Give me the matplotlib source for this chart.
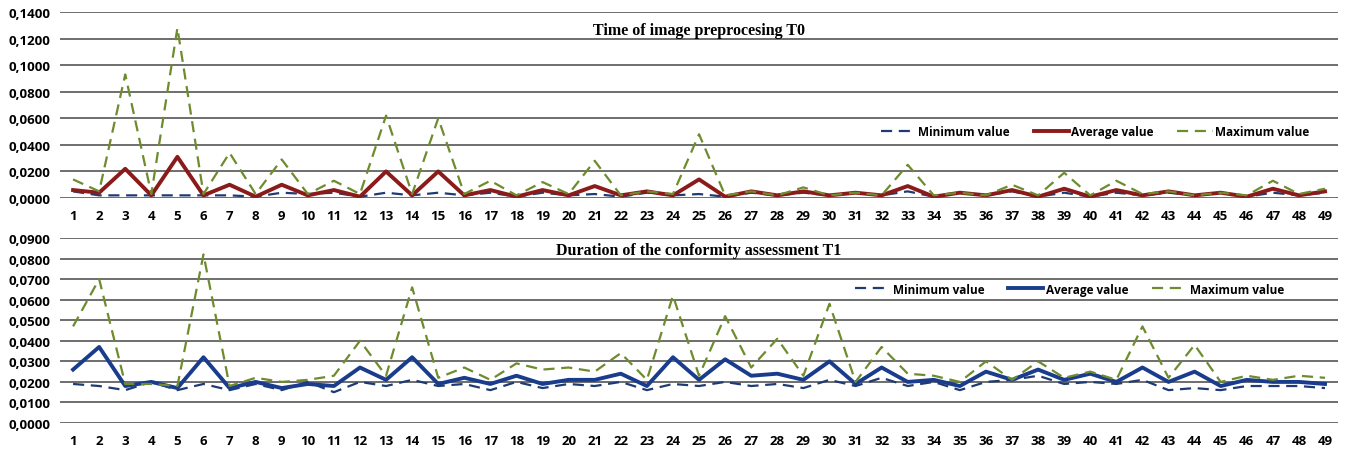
import numpy as np
import matplotlib.pyplot as plt

samples = list(range(1, 50))

# T0 - time of image preprocessing
t0_min = [0.005, 0.002, 0.002, 0.002, 0.002, 0.002, 0.002, 0.001, 0.004, 0.003,
          0.004, 0.001, 0.004, 0.002, 0.004, 0.002, 0.004, 0.001, 0.004, 0.002,
          0.003, 0.001, 0.004, 0.002, 0.003, 0.001, 0.004, 0.002, 0.004, 0.002,
          0.004, 0.002, 0.005, 0.001, 0.004, 0.002, 0.005, 0.001, 0.004, 0.001,
          0.004, 0.002, 0.004, 0.002, 0.004, 0.001, 0.004, 0.002, 0.004]
t0_avg = [0.006, 0.004, 0.022, 0.002, 0.031, 0.002, 0.010, 0.001, 0.010, 0.002,
          0.006, 0.001, 0.020, 0.002, 0.020, 0.002, 0.006, 0.001, 0.006, 0.002,
          0.009, 0.002, 0.005, 0.002, 0.014, 0.001, 0.005, 0.002, 0.005, 0.002,
          0.004, 0.002, 0.009, 0.001, 0.004, 0.002, 0.006, 0.001, 0.007, 0.001,
          0.006, 0.002, 0.005, 0.002, 0.004, 0.001, 0.007, 0.002, 0.005]
t0_max = [0.014, 0.005, 0.093, 0.003, 0.128, 0.003, 0.034, 0.003, 0.029, 0.003,
          0.013, 0.003, 0.062, 0.003, 0.060, 0.003, 0.013, 0.002, 0.012, 0.003,
          0.028, 0.002, 0.005, 0.003, 0.048, 0.002, 0.005, 0.002, 0.008, 0.002,
          0.004, 0.002, 0.025, 0.002, 0.004, 0.002, 0.010, 0.002, 0.019, 0.002,
          0.013, 0.003, 0.005, 0.002, 0.004, 0.002, 0.013, 0.003, 0.007]

# T1 - duration of the conformity assessment
t1_min = [0.019, 0.018, 0.016, 0.020, 0.016, 0.019, 0.016, 0.019, 0.016, 0.020,
          0.015, 0.020, 0.018, 0.021, 0.018, 0.019, 0.016, 0.020, 0.017, 0.019,
          0.018, 0.020, 0.016, 0.019, 0.018, 0.020, 0.018, 0.019, 0.017, 0.021,
          0.018, 0.022, 0.018, 0.020, 0.016, 0.020, 0.021, 0.023, 0.019, 0.020,
          0.019, 0.021, 0.016, 0.017, 0.016, 0.018, 0.018, 0.018, 0.017]
t1_avg = [0.026, 0.037, 0.018, 0.020, 0.017, 0.032, 0.017, 0.020, 0.017, 0.019,
          0.018, 0.027, 0.021, 0.032, 0.019, 0.022, 0.019, 0.023, 0.019, 0.021,
          0.021, 0.024, 0.018, 0.032, 0.021, 0.031, 0.023, 0.024, 0.021, 0.030,
          0.019, 0.027, 0.020, 0.021, 0.018, 0.025, 0.021, 0.026, 0.021, 0.024,
          0.020, 0.027, 0.020, 0.025, 0.018, 0.021, 0.020, 0.020, 0.019]
t1_max = [0.047, 0.070, 0.019, 0.019, 0.018, 0.082, 0.018, 0.022, 0.020, 0.021,
          0.023, 0.040, 0.023, 0.066, 0.022, 0.027, 0.021, 0.029, 0.026, 0.027,
          0.025, 0.034, 0.021, 0.062, 0.023, 0.052, 0.027, 0.041, 0.023, 0.058,
          0.020, 0.037, 0.024, 0.023, 0.020, 0.030, 0.021, 0.030, 0.022, 0.025,
          0.021, 0.047, 0.022, 0.038, 0.020, 0.023, 0.021, 0.023, 0.022]

label_font = ['Open Sans', 'DejaVu Sans']
title_font = ['Liberation Serif', 'DejaVu Serif']


def fmt(v, pos):
    return f'{v:.4f}'.replace('.', ',')


def draw_panel(ax, vmin, vavg, vmax, avg_color, ymax, ystep, title, title_y, leg_anchor):
    ax.plot(samples, vmin, color='#1F3B73', lw=1.6, dashes=(5, 3), label='Minimum value')
    ax.plot(samples, vavg, color=avg_color, lw=2.8, label='Average value')
    ax.plot(samples, vmax, color='#6E8B2E', lw=1.6, dashes=(5, 3), label='Maximum value')
    ax.set_xlim(0.5, 49.5)
    ax.set_ylim(0, ymax)
    ax.set_yticks(np.arange(0, ymax + ystep / 2, ystep))
    ax.yaxis.set_major_formatter(plt.FuncFormatter(fmt))
    ax.set_xticks(samples)
    ax.grid(axis='y', color='#555555', lw=1.2)
    ax.set_axisbelow(True)
    for s in ax.spines.values():
        s.set_visible(False)
    ax.tick_params(length=0, labelsize=9.5, pad=7)
    ax.tick_params(axis='x', pad=8)
    for lab in ax.get_xticklabels() + ax.get_yticklabels():
        lab.set_fontfamily(label_font)
        lab.set_fontweight('bold')
    ax.text(0.5, title_y, title, transform=ax.transAxes, ha='center', va='center',
            fontsize=11.5, fontweight='bold', family=title_font)
    ax.legend(loc='center left', bbox_to_anchor=leg_anchor, ncol=3, frameon=False,
              handlelength=3.0, handletextpad=0.2, columnspacing=2.0, borderpad=0,
              borderaxespad=0,
              prop={'family': label_font, 'weight': 'bold', 'size': 8.5})


fig = plt.figure(figsize=(13.46, 4.52), dpi=100)
ax1 = fig.add_axes([0.0446, 0.5597, 0.9495, 0.4115])
ax2 = fig.add_axes([0.0446, 0.0619, 0.9495, 0.4093])

draw_panel(ax1, t0_min, t0_avg, t0_max, '#8B1A1A', 0.14, 0.02,
           'Time of image preprocesing T0', 0.905, (0.642, 0.355))
draw_panel(ax2, t1_min, t1_avg, t1_max, '#1A3C8C', 0.09, 0.01,
           'Duration of the conformity assessment T1', 0.935, (0.622, 0.724))

fig.savefig('out.png', dpi=100)
